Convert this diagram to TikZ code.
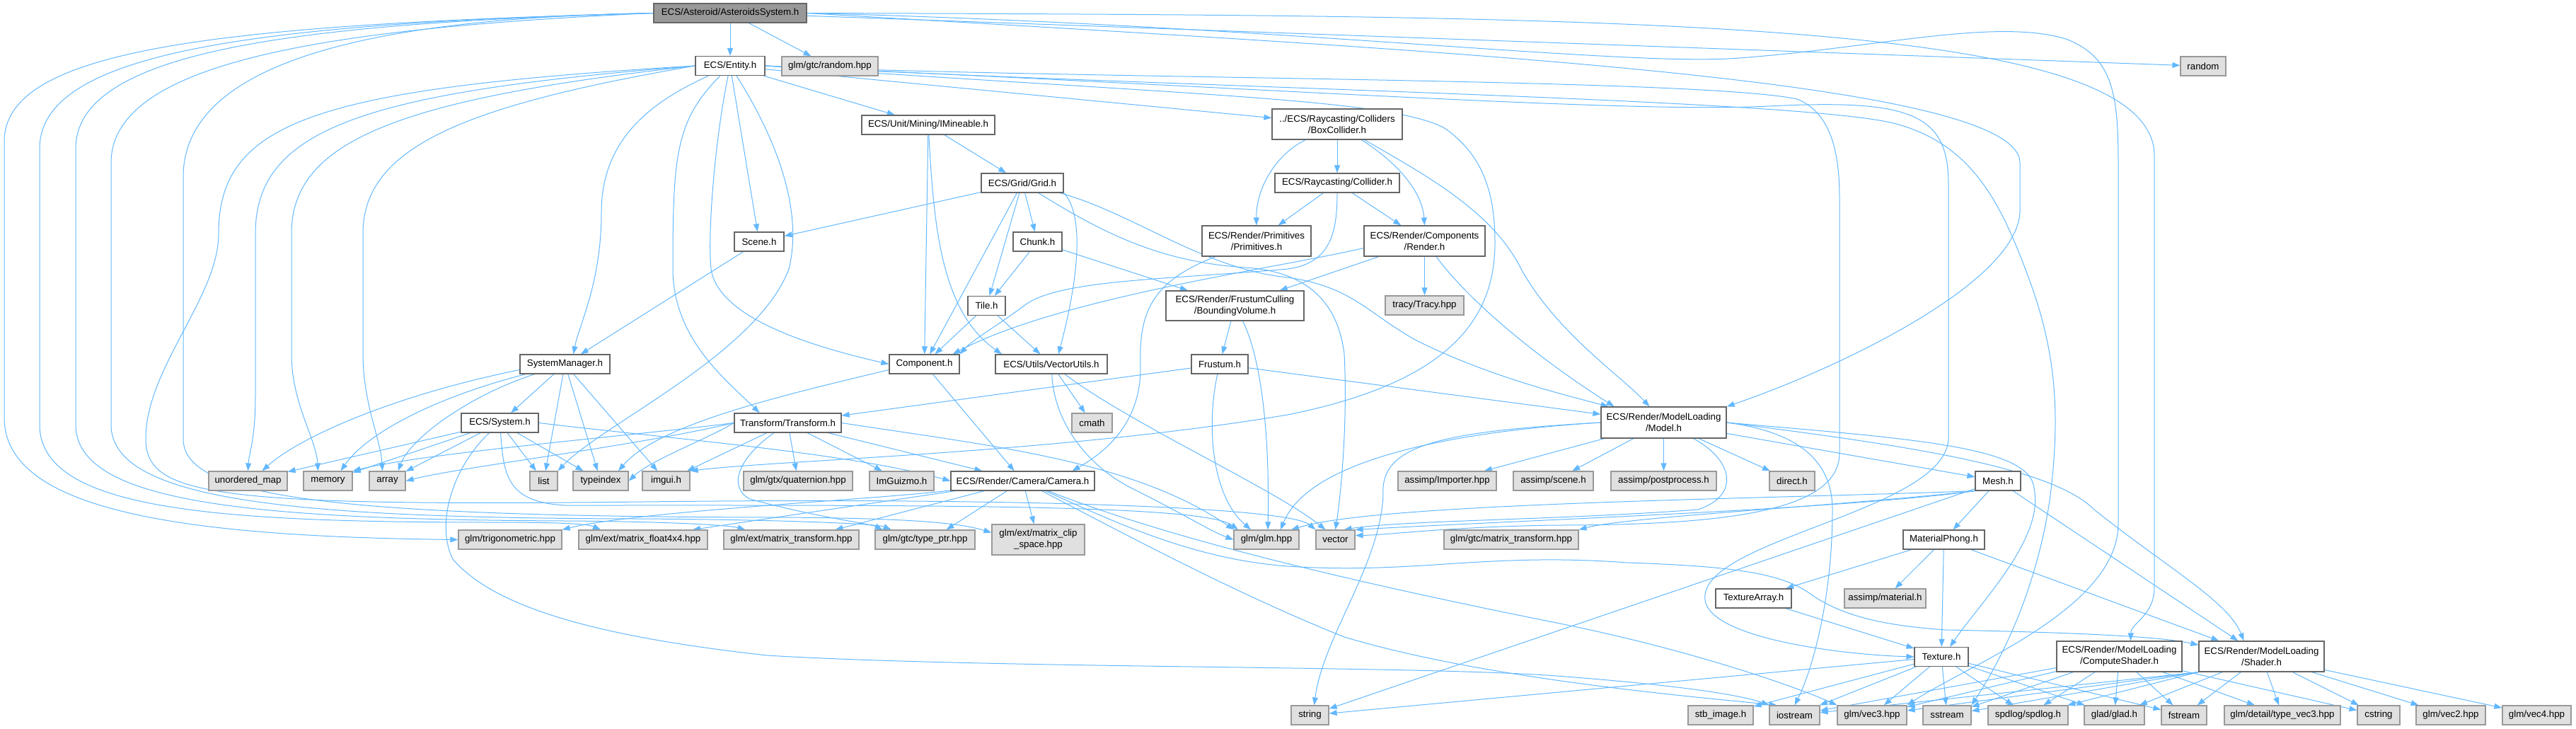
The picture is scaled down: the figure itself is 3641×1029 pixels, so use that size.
\documentclass[tikz,border=0pt]{standalone}
\usepackage{fontspec}
\setmainfont{Liberation Sans}
\usepackage{tikz}
\usetikzlibrary{arrows.meta}
\definecolor{edgeblue}{HTML}{63B8FF}
\definecolor{fileborder}{HTML}{666666}
\definecolor{sysborder}{HTML}{999999}
\definecolor{sysfill}{HTML}{E0E0E0}
\definecolor{rootfill}{HTML}{999999}
\tikzstyle{filenode} = [rectangle, draw=fileborder, fill=white, line width=1.2pt, inner xsep=5pt, inner ysep=0pt, minimum height=27, align=center, font=\fontsize{13.3}{16}\selectfont]
\tikzstyle{sysnode} = [filenode, draw=sysborder, fill=sysfill]
\tikzstyle{rootnode} = [filenode, fill=rootfill]
\tikzstyle{dep} = [draw=edgeblue, line width=1pt, -{Triangle[length=11pt,width=8pt]}]
\pgfdeclarelayer{edges}
\pgfsetlayers{edges,main}
\begin{document}
\begin{tikzpicture}[x=1pt, y=-1pt]
        \useasboundingbox (0,0) rectangle (3641,1029);
        \node (asys) [rootnode, minimum width=216] at (1032,18.5) {ECS/Asteroid/AsteroidsSystem.h};
        \node (entity) [filenode, minimum width=98] at (1032,93) {ECS/Entity.h};
        \node (randhpp) [sysnode, minimum width=136] at (1173,93.5) {glm/gtc/random.hpp};
        \node (stdrandom) [sysnode, minimum width=64] at (3114,93.5) {random};
        \node (mineable) [filenode, minimum width=188] at (1312,176.5) {ECS/Unit/Mining/IMineable.h};
        \node (boxcol) [filenode, minimum width=184, minimum height=43] at (1890,175.5) {../ECS/Raycasting/Colliders\\/BoxCollider.h};
        \node (grid) [filenode, minimum width=116] at (1445,258.5) {ECS/Grid/Grid.h};
        \node (collider) [filenode, minimum width=176] at (1890,258.5) {ECS/Raycasting/Collider.h};
        \node (scene) [filenode, minimum width=70] at (1073,341.5) {Scene.h};
        \node (chunk) [filenode, minimum width=69] at (1466.5,341.5) {Chunk.h};
        \node (prims) [filenode, minimum width=154, minimum height=43] at (1776,340.5) {ECS/Render/Primitives\\/Primitives.h};
        \node (render) [filenode, minimum width=171, minimum height=43] at (2013.5,340.5) {ECS/Render/Components\\/Render.h};
        \node (tile) [filenode, minimum width=53] at (1394.5,432) {Tile.h};
        \node (bvol) [filenode, minimum width=195, minimum height=42] at (1745.5,432) {ECS/Render/FrustumCulling\\/BoundingVolume.h};
        \node (tracy) [sysnode, minimum width=111] at (2013.5,431.5) {tracy/Tracy.hpp};
        \node (sysmgr) [filenode, minimum width=127] at (798.5,514.5) {SystemManager.h};
        \node (component) [filenode, minimum width=99] at (1306.5,514.5) {Component.h};
        \node (vecutils) [filenode, minimum width=158] at (1486,514.5) {ECS/Utils/VectorUtils.h};
        \node (frustum) [filenode, minimum width=80] at (1724,514.5) {Frustum.h};
        \node (model) [filenode, minimum width=177, minimum height=44] at (2351.5,597) {ECS/Render/ModelLoading\\/Model.h};
        \node (system) [filenode, minimum width=109] at (706.5,597.5) {ECS/System.h};
        \node (transform) [filenode, minimum width=151] at (1113.5,597.5) {Transform/Transform.h};
        \node (cmath) [sysnode, minimum width=57] at (1543.5,597.5) {cmath};
        \node (umap) [sysnode, minimum width=111] at (350.5,679.5) {unordered\_map};
        \node (memory) [sysnode, minimum width=69] at (463.5,679.5) {memory};
        \node (array) [sysnode, minimum width=51] at (547.5,679.5) {array};
        \node (list) [sysnode, minimum width=39] at (768.5,679.5) {list};
        \node (typeindex) [sysnode, minimum width=78] at (849,679.5) {typeindex};
        \node (imgui) [sysnode, minimum width=67] at (941.5,679.5) {imgui.h};
        \node (quat) [sysnode, minimum width=154] at (1128,679.5) {glm/gtx/quaternion.hpp};
        \node (imguizmo) [sysnode, minimum width=91] at (1274.5,679.5) {ImGuizmo.h};
        \node (camera) [filenode, minimum width=203] at (1445.5,679.5) {ECS/Render/Camera/Camera.h};
        \node (importer) [sysnode, minimum width=139] at (2045.5,679.5) {assimp/Importer.hpp};
        \node (scenehdr) [sysnode, minimum width=113] at (2195.5,679.5) {assimp/scene.h};
        \node (postproc) [sysnode, minimum width=149] at (2351.5,679.5) {assimp/postprocess.h};
        \node (direct) [sysnode, minimum width=64] at (2533,679.5) {direct.h};
        \node (mesh) [filenode, minimum width=64] at (2824,679.5) {Mesh.h};
        \node (trig) [sysnode, minimum width=146] at (721,762.5) {glm/trigonometric.hpp};
        \node (mat4) [sysnode, minimum width=182] at (909,762.5) {glm/ext/matrix\_float4x4.hpp};
        \node (mattrans) [sysnode, minimum width=191] at (1118.5,762.5) {glm/ext/matrix\_transform.hpp};
        \node (typeptr) [sysnode, minimum width=141] at (1307.5,762.5) {glm/gtc/type\_ptr.hpp};
        \node (clip) [sysnode, minimum width=131, minimum height=43] at (1467.5,762.5) {glm/ext/matrix\_clip\\\_space.hpp};
        \node (glmh) [sysnode, minimum width=92] at (1790,762.5) {glm/glm.hpp};
        \node (vector) [sysnode, minimum width=55] at (1887.5,762.5) {vector};
        \node (gtcmat) [sysnode, minimum width=190] at (2136,762.5) {glm/gtc/matrix\_transform.hpp};
        \node (phong) [filenode, minimum width=115] at (2747.5,762.5) {MaterialPhong.h};
        \node (texarray) [filenode, minimum width=107] at (2478.5,845.5) {TextureArray.h};
        \node (material) [sysnode, minimum width=115] at (2664.5,845.5) {assimp/material.h};
        \node (texture) [filenode, minimum width=76] at (2744,928) {Texture.h};
        \node (compute) [filenode, minimum width=177, minimum height=43] at (2995.5,927.5) {ECS/Render/ModelLoading\\/ComputeShader.h};
        \node (shader) [filenode, minimum width=177, minimum height=43] at (3196.5,927.5) {ECS/Render/ModelLoading\\/Shader.h};
        \node (string) [sysnode, minimum width=53] at (1851.5,1010.5) {string};
        \node (stb) [sysnode, minimum width=92] at (2432,1010.5) {stb\_image.h};
        \node (iostream) [sysnode, minimum width=71] at (2536.5,1010.5) {iostream};
        \node (vec3) [sysnode, minimum width=98] at (2646,1010.5) {glm/vec3.hpp};
        \node (sstream) [sysnode, minimum width=68] at (2752,1010.5) {sstream};
        \node (spdlog) [sysnode, minimum width=113] at (2866.5,1010.5) {spdlog/spdlog.h};
        \node (glad) [sysnode, minimum width=85] at (2988.5,1010.5) {glad/glad.h};
        \node (fstream) [sysnode, minimum width=64] at (3087,1010.5) {fstream};
        \node (typevec3) [sysnode, minimum width=164] at (3226,1010.5) {glm/detail/type\_vec3.hpp};
        \node (cstring) [sysnode, minimum width=60] at (3362,1010.5) {cstring};
        \node (vec2) [sysnode, minimum width=98] at (3464,1010.5) {glm/vec2.hpp};
        \node (vec4) [sysnode, minimum width=97] at (3585.5,1010.5) {glm/vec4.hpp};

        \begin{pgfonlayer}{edges}
        \draw [dep] (asys) -- (entity);
        \draw [dep] (asys) -- (randhpp);
        \draw [dep] (asys) -- (stdrandom);
        \draw [dep] (asys.east) .. controls (2300,22) and (3045,25) .. (3045,220) -- (3045,830) .. controls (3045,870) and (3012,880) .. ([xshift=16]compute.north);
        \draw [dep] (asys.east) .. controls (1800,35) and (2300,95) .. (2458,82) .. controls (2650,68) and (2820,25) .. (2920,55) .. controls (2985,80) and (2994,130) .. (2994,230) -- (2994,740) .. controls (2994,860) and (2780,940) .. (vec3.north east);
        \draw [dep] (asys.east) .. controls (2000,70) and (2855,110) .. (2855,230) -- (2855,300) .. controls (2850,400) and (2600,520) .. (model.north east);
        \draw [dep] (asys.west) .. controls (300,35) and (6,70) .. (6,200) -- (6,590) .. controls (6,720) and (250,758) .. (trig.west);
        \draw [dep] (asys.west) .. controls (350,33) and (56,75) .. (56,210) -- (56,600) .. controls (56,720) and (300,738) .. (700,738) .. controls (790,738) and (830,740) .. ([xshift=-60]mat4.north);
        \draw [dep] (asys.west) .. controls (400,33) and (107,75) .. (107,210) -- (107,600) .. controls (107,710) and (350,734) .. (800,736) .. controls (950,737) and (1030,742) .. ([xshift=-65]mattrans.north);
        \draw [dep] (asys.west) .. controls (450,40) and (157,90) .. (157,230) -- (157,600) .. controls (157,705) and (400,732) .. (900,733) .. controls (1100,734) and (1240,740) .. ([xshift=-48]typeptr.north);
        \draw [dep] (asys.west) .. controls (550,25) and (259,80) .. (259,250) -- (259,620) .. controls (259,700) and (450,730) .. (1100,731) .. controls (1300,732) and (1360,740) .. ([yshift=10]clip.west);

        \draw [dep] (entity) -- (mineable);
        \draw [dep] (entity) -- (boxcol);
        \draw [dep] (entity) -- (scene);
        \draw [dep] (entity.west) .. controls (450,125) and (309,170) .. (309,330) .. controls (309,420) and (206,520) .. (206,620) .. controls (206,700) and (300,716) .. (910,709) .. controls (1400,703) and (1820,715) .. (vector.north west);
        \draw [dep] (entity.west) .. controls (520,130) and (361,180) .. (361,330) -- (361,560) .. controls (361,620) and (352,640) .. (umap.north);
        \draw [dep] (entity.west) .. controls (560,140) and (412,200) .. (412,330) -- (412,500) .. controls (412,570) and (447,620) .. ([xshift=-14]memory.north);
        \draw [dep] (entity.west) .. controls (650,150) and (513,210) .. (513,330) -- (513,500) .. controls (513,570) and (538,620) .. ([xshift=-7]array.north);
        \draw [dep] (entity) .. controls (930,140) and (850,190) .. (850,300) .. controls (850,400) and (818,460) .. ([xshift=12]sysmgr.north);
        \draw [dep] (entity) .. controls (955,170) and (951,220) .. (951,380) .. controls (951,480) and (1030,540) .. ([xshift=-40]transform.north);
        \draw [dep] (entity) .. controls (1010,200) and (1000,330) .. (1005,380) .. controls (1015,450) and (1150,490) .. (component.west);
        \draw [dep] (entity) .. controls (1100,200) and (1135,300) .. (1115,380) .. controls (1070,500) and (850,600) .. (list.north east);
        \draw [dep] (entity.east) .. controls (1500,112) and (2400,110) .. (2540,140) .. controls (2590,160) and (2600,220) .. (2600,280) -- (2600,640) .. controls (2600,720) and (2450,742) .. (2200,742) .. controls (2050,744) and (1960,756) .. ([yshift=6]vector.east);
        \draw [dep] (entity.east) .. controls (1700,125) and (2550,140) .. (2680,175) .. controls (2790,205) and (2830,290) .. (2870,400) .. controls (2910,510) and (2910,600) .. (2898,700) .. controls (2880,830) and (2830,930) .. (sstream.north east);
        \draw [dep] (entity.east) .. controls (1800,125) and (2300,160) .. (2500,150) .. controls (2700,140) and (2754,160) .. (2754,260) -- (2754,620) .. controls (2750,720) and (2420,760) .. (2410,840) .. controls (2400,900) and (2600,925) .. (texture.west);
        \draw [dep] (entity.east) .. controls (1700,135) and (1960,140) .. (2040,180) .. controls (2100,220) and (2113,280) .. (2113,343) .. controls (2113,450) and (2050,540) .. (1820,586) .. controls (1500,640) and (1100,650) .. (imgui.north east);

        \draw [dep] (mineable) -- (grid);
        \draw [dep] (mineable) -- (component);
        \draw [dep] (mineable) .. controls (1320,320) and (1330,440) .. ([xshift=-70]vecutils.north);
        \draw [dep] (grid) -- (chunk);
        \draw [dep] (grid) -- (scene);
        \draw [dep] (grid) -- (component);
        \draw [dep] (grid) -- (tile);
        \draw [dep] (grid.south east) .. controls (1530,300) and (1528,380) .. ([xshift=10]vecutils.north);
        \draw [dep] (grid) .. controls (1560,330) and (1640,370) .. (1760,378) .. controls (1840,383) and (1890,420) .. (1900,500) .. controls (1905,600) and (1895,700) .. (vector.north);
        \draw [dep] (grid) .. controls (1600,300) and (1700,380) .. (1820,392) .. controls (1910,405) and (1930,440) .. (2000,480) .. controls (2100,530) and (2200,555) .. ([xshift=-78]model.north);
        \draw [dep] (boxcol) -- (collider);
        \draw [dep] (boxcol) .. controls (1800,220) and (1775,270) .. (prims.north);
        \draw [dep] (boxcol) .. controls (1975,230) and (2010,270) .. (render.north);
        \draw [dep] (boxcol) .. controls (2020,250) and (2110,300) .. (2150,380) .. controls (2200,470) and (2290,530) .. ([xshift=-20]model.north);
        \draw [dep] (collider) -- (prims);
        \draw [dep] (collider) -- (render);
        \draw [dep] (collider) .. controls (1890,330) and (1880,372) .. (1820,380) .. controls (1650,395) and (1500,395) .. (1450,430) .. controls (1410,460) and (1375,480) .. (component.north east);
        \draw [dep] (render) -- (tracy);
        \draw [dep] (render) -- (bvol);
        \draw [dep] ([yshift=-10]render.west) .. controls (1800,380) and (1500,420) .. ([xshift=-10]component.north east);
        \draw [dep] (render) .. controls (2080,430) and (2180,510) .. ([xshift=-70]model.north);
        \draw [dep] (prims) .. controls (1620,400) and (1610,450) .. (1612,520) .. controls (1612,600) and (1560,640) .. ([xshift=70]camera.north);
        \draw [dep] (chunk) -- (tile);
        \draw [dep] (chunk) -- (bvol);
        \draw [dep] (tile) -- (component);
        \draw [dep] (tile) -- (vecutils);
        \draw [dep] (scene) -- (sysmgr);
        \draw [dep] (bvol) -- (frustum);
        \draw [dep] (bvol) .. controls (1780,500) and (1795,600) .. ([xshift=2]glmh.north);
        \draw [dep] (frustum) -- (transform);
        \draw [dep] (frustum) -- (model);
        \draw [dep] (frustum) .. controls (1705,600) and (1712,700) .. ([xshift=-22]glmh.north);

        \draw [dep] (sysmgr) -- (system);
        \draw [dep] ([yshift=-8]sysmgr.west) .. controls (550,560) and (420,620) .. ([xshift=20]umap.north);
        \draw [dep] (sysmgr) .. controls (620,560) and (520,610) .. ([xshift=18]memory.north);
        \draw [dep] (sysmgr) .. controls (660,560) and (580,620) .. ([xshift=15]array.north);
        \draw [dep] (sysmgr) -- (list);
        \draw [dep] (sysmgr) -- (typeindex);
        \draw [dep] (sysmgr) -- (imgui);
        \draw [dep] (system) -- (umap);
        \draw [dep] (system) -- (memory);
        \draw [dep] (system) -- (array);
        \draw [dep] (system) -- (list);
        \draw [dep] (system) -- (typeindex);
        \draw [dep] (system.east) .. controls (950,620) and (1200,640) .. (camera.west);
        \draw [dep] (system) .. controls (712,670) and (715,710) .. (800,714) .. controls (1300,714) and (1700,712) .. ([xshift=-40]glmh.north);
        \draw [dep] (system) .. controls (640,660) and (615,740) .. (640,790) .. controls (700,860) and (850,900) .. (1084,926) .. controls (1400,945) and (2000,940) .. (2200,955) .. controls (2400,970) and (2470,985) .. (iostream.north west);
        \draw [dep] (transform.west) .. controls (900,615) and (600,640) .. (memory.north east);
        \draw [dep] (transform.west) .. controls (900,630) and (650,660) .. (array.east);
        \draw [dep] (transform.west) .. controls (1000,620) and (920,650) .. (typeindex.east);
        \draw [dep] (transform) -- (imgui);
        \draw [dep] (transform) -- (quat);
        \draw [dep] (transform) -- (imguizmo);
        \draw [dep] (transform) -- (camera);
        \draw [dep] (transform.east) .. controls (1400,630) and (1600,650) .. ([xshift=-46]glmh.north);
        \draw [dep] (transform) .. controls (1040,650) and (1030,690) .. (1060,705) .. controls (1150,730) and (1230,740) .. ([xshift=-60]typeptr.north);
        \draw [dep] (component) -- (camera);
        \draw [dep] ([yshift=-8]component.west) .. controls (1100,560) and (930,600) .. ([xshift=25]typeindex.north);
        \draw [dep] (vecutils) -- (cmath);
        \draw [dep] (vecutils) .. controls (1600,600) and (1800,690) .. ([xshift=-14]vector.north);
        \draw [dep] (vecutils) .. controls (1490,600) and (1540,660) .. (1600,690) .. controls (1680,730) and (1710,750) .. (glmh.west);

        \draw [dep] (camera) -- ([xshift=70]mat4.north);
        \draw [dep] (camera) -- ([xshift=62]mattrans.north);
        \draw [dep] (camera) -- ([xshift=30]typeptr.north);
        \draw [dep] (camera) -- (clip);
        \draw [dep] (camera) .. controls (1250,705) and (900,722) .. (trig.north east);
        \draw [dep] (camera) .. controls (1600,760) and (1750,840) .. (1900,900) .. controls (2100,960) and (2400,985) .. ([xshift=-25]iostream.north);
        \draw [dep] (camera) .. controls (1650,760) and (1900,820) .. (2200,880) .. controls (2400,920) and (2550,975) .. (vec3.north west);
        \draw [dep] (camera) .. controls (1560,730) and (1680,790) .. (1820,800) .. controls (2000,812) and (2100,780) .. (2300,795) .. controls (2450,800) and (2520,810) .. (2560,840) .. controls (2610,875) and (2680,885) .. (2750,890) .. controls (2900,893) and (3050,898) .. ([yshift=-6]shader.north west);

        \draw [dep] (model) -- (importer);
        \draw [dep] (model) -- (scenehdr);
        \draw [dep] (model) -- (postproc);
        \draw [dep] (model) -- (direct);
        \draw [dep] (model) -- (mesh);
        \draw [dep] (model.west) .. controls (2050,610) and (1850,650) .. ([xshift=20]glmh.north);
        \draw [dep] (model.west) .. controls (2030,610) and (1950,630) .. (1955,700) .. controls (1950,800) and (1870,900) .. ([xshift=6]string.north);
        \draw [dep] (model) .. controls (2450,650) and (2460,700) .. (2400,720) .. controls (2200,735) and (1980,735) .. ([xshift=12]vector.north);
        \draw [dep] (model.east) .. controls (2540,610) and (2590,650) .. (2590,720) .. controls (2590,850) and (2560,950) .. (iostream.north);
        \draw [dep] (model.east) .. controls (2700,630) and (2900,660) .. (2960,720) .. controls (3060,800) and (3150,850) .. ([xshift=-25]shader.north);
        \draw [dep] (model.east) .. controls (2700,620) and (2870,630) .. (2875,690) .. controls (2890,760) and (2800,850) .. ([xshift=12]texture.north);
        \draw [dep] (mesh) -- (phong);
        \draw [dep] (mesh) -- (shader);
        \draw [dep] (mesh) -- (string);
        \draw [dep] (mesh.south west) .. controls (2600,720) and (2150,735) .. (vector.north east);
        \draw [dep] (mesh.south west) .. controls (2600,715) and (2300,730) .. (gtcmat.north east);
        \draw [dep] (mesh.south west) .. controls (2500,705) and (1950,710) .. ([xshift=35]glmh.north);
        \draw [dep] (phong) -- (texarray);
        \draw [dep] (phong) -- (material);
        \draw [dep] (phong) -- (texture);
        \draw [dep] (phong) -- (shader);
        \draw [dep] (texarray) -- (texture);

        \draw [dep] (texture) -- (string);
        \draw [dep] (texture) -- (stb);
        \draw [dep] (texture) -- (iostream);
        \draw [dep] (texture) -- (vec3);
        \draw [dep] (texture) -- (sstream);
        \draw [dep] (texture) -- (spdlog);
        \draw [dep] (texture) -- (glad);
        \draw [dep] (texture) -- (fstream);
        \draw [dep] (compute) -- (iostream);
        \draw [dep] (compute) -- (vec3);
        \draw [dep] (compute) -- (sstream);
        \draw [dep] (compute) -- (spdlog);
        \draw [dep] (compute) -- (glad);
        \draw [dep] (compute) -- (fstream);
        \draw [dep] (compute) -- (typevec3);
        \draw [dep] (compute) -- (cstring);
        \draw [dep] (shader.south west) -- (iostream);
        \draw [dep] (shader.south west) -- (vec3);
        \draw [dep] (shader.south west) -- (sstream);
        \draw [dep] (shader.south west) -- (spdlog);
        \draw [dep] (shader) -- (glad);
        \draw [dep] (shader) -- (fstream);
        \draw [dep] (shader) -- (typevec3);
        \draw [dep] (shader) -- (cstring);
        \draw [dep] (shader) -- (vec2);
        \draw [dep] (shader) -- (vec4);
        \end{pgfonlayer}
\end{tikzpicture}
\end{document}
